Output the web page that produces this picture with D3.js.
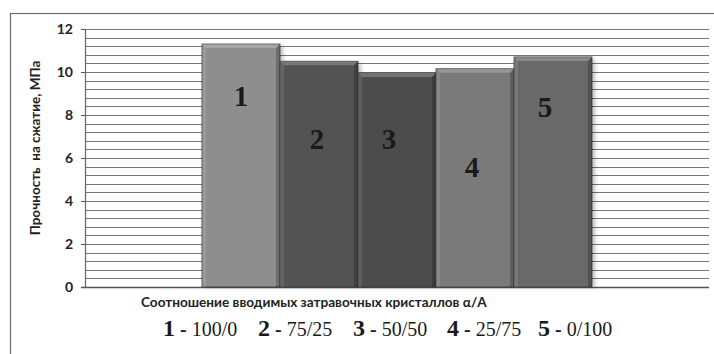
<!DOCTYPE html>
<html>
<head>
<meta charset="utf-8">
<script src="https://cdn.jsdelivr.net/npm/d3@7/dist/d3.min.js"></script>
<style>
  html, body { margin: 0; padding: 0; background: #fff; }
  svg { display: block; }
</style>
</head>
<body>
<svg id="chart" width="714" height="354"></svg>
<script>
// Compressive strength for each seed-crystal ratio α/A
const series = ["1", "2", "3", "4", "5"];
const ratios = ["100/0", "75/25", "50/50", "25/75", "0/100"];
const strength = [11.3, 10.5, 9.95, 10.15, 10.7];
const yTicks = [0, 2, 4, 6, 8, 10, 12];
const yTitle = "Прочность  на сжатие, МПа";
const xTitle = "Соотношение вводимых затравочных кристаллов α/A";

const fills = ["#8e8e8e", "#535353", "#4c4c4c", "#7a7a7a", "#696969"];

const svg = d3.select("#chart");
const plot = { left: 85, right: 709, top: 29, bottom: 287 };

// outer chart frame (runs off the right and bottom edges)
svg.append("rect")
  .attr("x", 10.5).attr("y", 13.5)
  .attr("width", 730).attr("height", 360)
  .attr("fill", "none").attr("stroke", "#6a6a6a").attr("stroke-width", 1.2);

const y = d3.scaleLinear().domain([0, 12]).range([plot.bottom, plot.top]);

// one category holding all five series, 300% gap width
const xCat = d3.scaleBand().domain(["all"]).range([plot.left, plot.right])
  .paddingInner(0).paddingOuter(0.3);
const xSer = d3.scaleBand().domain(series).range([0, xCat.bandwidth()]).padding(0);

// minor gridlines every 0.4
const gridVals = d3.range(1, 31).map(i => +(i * 0.4).toFixed(2));
svg.append("g").selectAll("line").data(gridVals).join("line")
  .attr("x1", plot.left).attr("x2", plot.right)
  .attr("y1", d => Math.round(y(d)) + 0.5).attr("y2", d => Math.round(y(d)) + 0.5)
  .attr("stroke", "#777").attr("stroke-width", 1.2);

// y axis
const yAxis = d3.axisLeft(y).tickValues(yTicks).tickSize(4).tickPadding(8).tickFormat(d3.format("d"));
const gy = svg.append("g").attr("transform", `translate(${plot.left},0)`).call(yAxis);
gy.select(".domain").attr("stroke", "#666").attr("stroke-width", 1.2);
gy.selectAll(".tick line").attr("stroke", "#555");
gy.selectAll(".tick text")
  .attr("font-family", "Lato, 'Open Sans', sans-serif").attr("font-weight", 700)
  .attr("font-size", 14).attr("fill", "#222");

// baseline
svg.append("line")
  .attr("x1", plot.left - 4).attr("x2", plot.right)
  .attr("y1", y(0) + 0.5).attr("y2", y(0) + 0.5)
  .attr("stroke", "#555").attr("stroke-width", 1.3);

// soft shadow for the bars
const defs = svg.append("defs");
defs.append("filter").attr("id", "shadow").attr("x", "-20%").attr("y", "-20%")
  .attr("width", "140%").attr("height", "140%")
  .append("feGaussianBlur").attr("stdDeviation", 2);

const x0 = xCat("all");
const bars = svg.append("g").selectAll("g").data(series).join("g")
  .attr("transform", d => `translate(${x0 + xSer(d)},0)`);
const bw = xSer.bandwidth();

bars.append("rect")
  .attr("x", 3).attr("y", (d, i) => y(strength[i]) + 2)
  .attr("width", bw).attr("height", (d, i) => y(0) - y(strength[i]) - 2)
  .attr("fill", "#000").attr("opacity", 0.25).attr("filter", "url(#shadow)");

bars.append("rect")
  .attr("x", 0).attr("y", (d, i) => y(strength[i]))
  .attr("width", bw).attr("height", (d, i) => y(0) - y(strength[i]))
  .attr("fill", (d, i) => fills[i])
  .attr("stroke", "#3a3a3a").attr("stroke-width", 0.8);

// bevel: light top face, lighter left edge, dark right edge
const bev = 4;
bars.append("path")
  .attr("d", (d, i) => {
    const t = y(strength[i]);
    return `M0,${t} L${bw},${t} L${bw - bev},${t + bev} L${bev},${t + bev} Z`;
  })
  .attr("fill", "#fff").attr("opacity", 0.22);
bars.append("path")
  .attr("d", (d, i) => {
    const t = y(strength[i]);
    return `M0,${t} L${bev},${t + bev} L${bev},${y(0)} L0,${y(0)} Z`;
  })
  .attr("fill", "#fff").attr("opacity", 0.1);
bars.append("path")
  .attr("d", (d, i) => {
    const t = y(strength[i]);
    return `M${bw},${t} L${bw - bev},${t + bev} L${bw - bev},${y(0)} L${bw},${y(0)} Z`;
  })
  .attr("fill", "#000").attr("opacity", 0.22);

// series numbers inside the bars, placed at varying heights
const labelLevel = [8.4, 6.4, 6.4, 5.1, 7.9];
const labelShift = [0, -2, -8, -3, -8];
bars.append("text")
  .attr("x", (d, i) => bw / 2 + labelShift[i]).attr("y", (d, i) => y(labelLevel[i]))
  .attr("text-anchor", "middle")
  .attr("font-family", "'Liberation Serif', 'Times New Roman', serif")
  .attr("font-weight", 700).attr("font-size", 29).attr("fill", "#1a1a1a")
  .text(d => d);

// axis titles
svg.append("text")
  .attr("transform", `translate(40,${(plot.top + plot.bottom) / 2 - 10}) rotate(-90)`)
  .attr("text-anchor", "middle")
  .attr("font-family", "Lato, 'Open Sans', sans-serif").attr("font-weight", 700)
  .attr("font-size", 13.5).attr("fill", "#222")
  .attr("xml:space", "preserve")
  .text(yTitle);

svg.append("text")
  .attr("x", 141).attr("y", 307)
  .attr("font-family", "Lato, 'Open Sans', sans-serif").attr("font-weight", 700)
  .attr("font-size", 13.6).attr("fill", "#222")
  .text(xTitle);

// key: series number - ratio
const keyX = [163, 258, 353, 447, 538];
const key = svg.append("g").selectAll("text").data(series).join("text")
  .attr("x", (d, i) => keyX[i]).attr("y", 336)
  .attr("font-family", "'Liberation Serif', 'Times New Roman', serif")
  .attr("fill", "#1a1a1a")
  .attr("xml:space", "preserve");
key.append("tspan").attr("font-weight", 700).attr("font-size", 24).text(d => d);
key.append("tspan").attr("font-weight", 700).attr("font-size", 20).text(" - ");
key.append("tspan").attr("font-size", 20).text((d, i) => ratios[i]);
</script>
</body>
</html>
